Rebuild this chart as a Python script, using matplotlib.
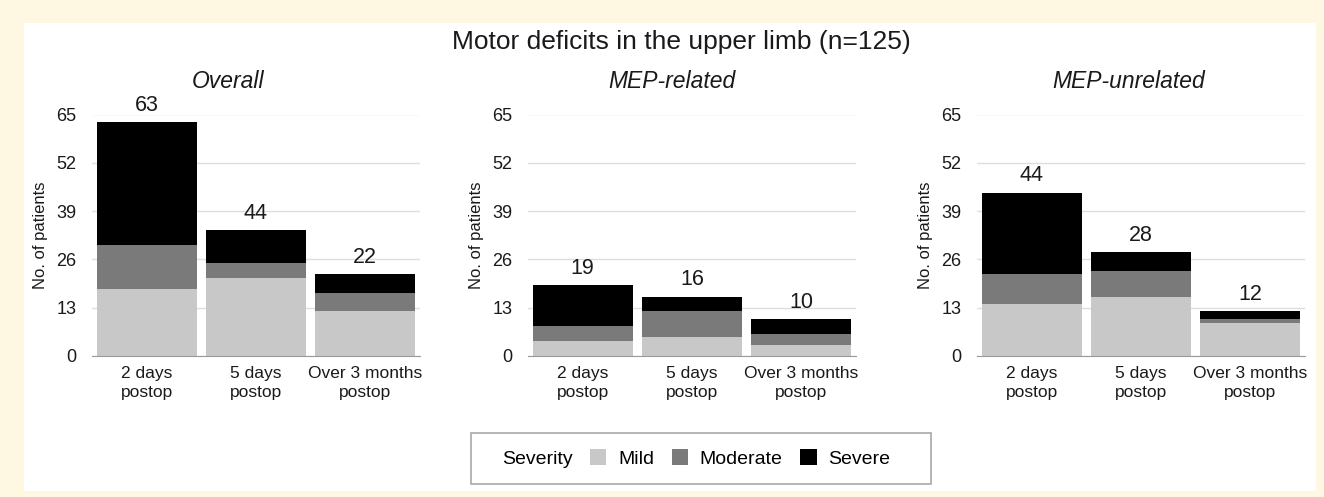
import matplotlib
matplotlib.use("Agg")
import matplotlib.pyplot as plt
from matplotlib.patches import Rectangle, Patch
import numpy as np

plt.rcParams['font.family'] = ['Liberation Sans', 'DejaVu Sans']

categories = ["2 days\npostop", "5 days\npostop", "Over 3 months\npostop"]
panels = ["Overall", "MEP-related", "MEP-unrelated"]
severity = ["Mild", "Moderate", "Severe"]
colors = ["#c8c8c8", "#7a7a7a", "#000000"]

# bar segment heights as drawn (mild, moderate, severe)
overall_mild = [18, 21, 12]
overall_moderate = [12, 4, 5]
overall_severe = [33, 9, 5]
overall_labels = [63, 44, 22]

related_mild = [4, 5, 3]
related_moderate = [4, 7, 3]
related_severe = [11, 4, 4]
related_labels = [19, 16, 10]

unrelated_mild = [14, 16, 9]
unrelated_moderate = [8, 7, 1]
unrelated_severe = [22, 5, 2]
unrelated_labels = [44, 28, 12]

yticks = [0, 13, 26, 39, 52, 65]

W, H = 1324, 497
fig = plt.figure(figsize=(W / 100, H / 100), dpi=100)
fig.patch.set_facecolor("#fef8e2")

# white card
fig.patches.append(Rectangle((24 / W, 1 - 491 / H), 1292 / W, 468 / H,
                             transform=fig.transFigure, facecolor="white",
                             edgecolor="none", zorder=-2))

fig.text(681 / W, 1 - 42 / H, "Motor deficits in the upper limb (n=125)",
         ha="center", va="center", fontsize=19, color="#1a1a1a")

data = [
    (overall_mild, overall_moderate, overall_severe, overall_labels),
    (related_mild, related_moderate, related_severe, related_labels),
    (unrelated_mild, unrelated_moderate, unrelated_severe, unrelated_labels),
]
lefts = [92, 528, 977]
sub_x = [228, 672, 1129]

for i in range(3):
    ax = fig.add_axes([lefts[i] / W, 1 - 356 / H, 328 / W, (356 - 114.5) / H])
    ax.set_zorder(2)
    mild, moderate, severe, labels = data[i]
    x = np.arange(len(categories))
    bottom = np.zeros(len(categories))
    for vals, c in zip([mild, moderate, severe], colors):
        ax.bar(x, vals, 0.913, bottom=bottom, color=c, zorder=3)
        bottom = bottom + np.array(vals)
    for xi, top, lab in zip(x, bottom, labels):
        ax.annotate(str(lab), (xi, top), xytext=(0, 12), textcoords="offset points",
                    ha="center", va="center", fontsize=15.5, color="#1a1a1a",
                    annotation_clip=False)

    ax.set_xlim(-0.5, 2.5)
    ax.set_ylim(0, 65)
    ax.set_yticks(yticks)
    ax.set_xticks(x)
    ax.set_xticklabels(categories, fontsize=12.5, color="#1a1a1a", linespacing=1.35)
    ax.tick_params(axis="y", labelsize=13, labelcolor="#1a1a1a", length=0, pad=11)
    ax.tick_params(axis="x", length=0, pad=7)
    ax.grid(axis="y", color="#dedede", linewidth=1, zorder=0)
    for s in ["top", "right", "left"]:
        ax.spines[s].set_visible(False)
    ax.spines["bottom"].set_color("#9a9a9a")
    ax.spines["bottom"].set_zorder(4)
    ax.set_ylabel("No. of patients", fontsize=12, color="#1a1a1a", labelpad=6)
    ax.set_facecolor("none")

    fig.text(sub_x[i] / W, 1 - 81 / H, panels[i], ha="center", va="center",
             fontsize=16.5, style="italic", color="#1a1a1a")

# legend box
fig.patches.append(Rectangle((471 / W, 1 - 484 / H), 460 / W, 51 / H,
                             transform=fig.transFigure, facecolor="white",
                             edgecolor="#a8a8a8", linewidth=1.2, zorder=-1))
handles = [Patch(visible=False)] + [Patch(facecolor=c) for c in colors]
fig.legend(handles, ["Severity"] + severity, loc="center",
           bbox_to_anchor=(682 / W, 1 - 458.5 / H), ncol=4, frameon=False,
           fontsize=14, handlelength=0.85, handleheight=0.85,
           handletextpad=0.6, columnspacing=0.9)

fig.savefig("out.png", dpi=100, facecolor=fig.get_facecolor())
